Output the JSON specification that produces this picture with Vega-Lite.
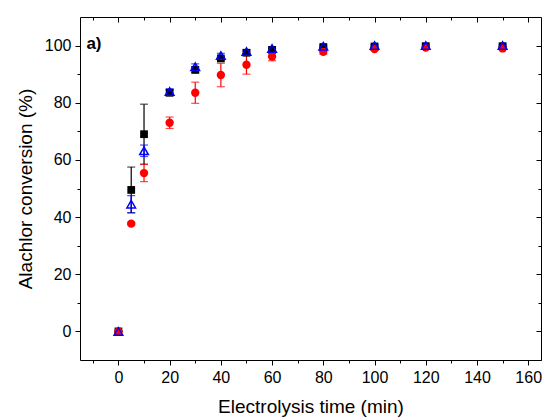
{
  "$schema": "https://vega.github.io/schema/vega-lite/v6.json",
  "width": 461,
  "height": 343,
  "autosize": {"type": "none"},
  "padding": {"left": 80, "top": 17, "right": 3, "bottom": 59},
  "background": "white",
  "config": {
    "view": {"stroke": "black", "strokeWidth": 1},
    "font": "Liberation Sans",
    "axis": {
      "domain": false,
      "grid": false,
      "tickColor": "black",
      "tickWidth": 1,
      "labelColor": "black",
      "titleColor": "black",
      "labelFont": "Liberation Sans",
      "titleFont": "Liberation Sans",
      "labelFontSize": 16,
      "titleFontSize": 19,
      "titleFontWeight": "normal"
    }
  },
  "datasets": {
    "pts": [
      {"s": "A", "t": 0, "v": 0, "lo": 0, "hi": 0},
      {"s": "A", "t": 5, "v": 49.5, "lo": 41.5, "hi": 57.5},
      {"s": "A", "t": 10, "v": 69, "lo": 58.5, "hi": 79.5},
      {"s": "A", "t": 20, "v": 83.5, "lo": 82.5, "hi": 84.5},
      {"s": "A", "t": 30, "v": 91.5, "lo": 90.5, "hi": 92.5},
      {"s": "A", "t": 40, "v": 95.5, "lo": 95, "hi": 96},
      {"s": "A", "t": 50, "v": 97.5, "lo": 97, "hi": 98},
      {"s": "A", "t": 60, "v": 98.5, "lo": 98, "hi": 99},
      {"s": "A", "t": 80, "v": 99.5, "lo": 99.2, "hi": 99.8},
      {"s": "A", "t": 100, "v": 99.7, "lo": 99.4, "hi": 100},
      {"s": "A", "t": 120, "v": 99.8, "lo": 99.5, "hi": 100},
      {"s": "A", "t": 150, "v": 99.8, "lo": 99.5, "hi": 100},
      {"s": "B", "t": 0, "v": 0, "lo": 0, "hi": 0},
      {"s": "B", "t": 5, "v": 37.7, "lo": 37.2, "hi": 38.2},
      {"s": "B", "t": 10, "v": 55.4, "lo": 52.4, "hi": 58.4},
      {"s": "B", "t": 20, "v": 73, "lo": 71, "hi": 75},
      {"s": "B", "t": 30, "v": 83.5, "lo": 79.8, "hi": 87.2},
      {"s": "B", "t": 40, "v": 89.7, "lo": 85.6, "hi": 93.8},
      {"s": "B", "t": 50, "v": 93.3, "lo": 90, "hi": 96.8},
      {"s": "B", "t": 60, "v": 96.2, "lo": 94.7, "hi": 97.7},
      {"s": "B", "t": 80, "v": 97.8, "lo": 97, "hi": 98.6},
      {"s": "B", "t": 100, "v": 98.8, "lo": 98.3, "hi": 99.3},
      {"s": "B", "t": 120, "v": 99.3, "lo": 98.9, "hi": 99.7},
      {"s": "B", "t": 150, "v": 99, "lo": 98.6, "hi": 99.4},
      {"s": "C", "t": 0, "v": 0, "lo": 0, "hi": 0},
      {"s": "C", "t": 5, "v": 44.5, "lo": 41.5, "hi": 47.5},
      {"s": "C", "t": 10, "v": 63.2, "lo": 61.2, "hi": 65.2},
      {"s": "C", "t": 20, "v": 83.9, "lo": 82.9, "hi": 84.9},
      {"s": "C", "t": 30, "v": 92.6, "lo": 91.6, "hi": 93.6},
      {"s": "C", "t": 40, "v": 96.5, "lo": 95.7, "hi": 97.3},
      {"s": "C", "t": 50, "v": 97.9, "lo": 97.2, "hi": 98.6},
      {"s": "C", "t": 60, "v": 99, "lo": 98.4, "hi": 99.6},
      {"s": "C", "t": 80, "v": 99.8, "lo": 99.4, "hi": 100.2},
      {"s": "C", "t": 100, "v": 100, "lo": 99.6, "hi": 100.4},
      {"s": "C", "t": 120, "v": 100, "lo": 99.6, "hi": 100.4},
      {"s": "C", "t": 150, "v": 100, "lo": 99.6, "hi": 100.4}
    ],
    "lbl": [{"t": -12.5, "v": 100.6, "text": "a)"}]
  },
  "data": {"name": "pts"},
  "layer": [
    {
      "mark": {"type": "rule", "strokeWidth": 1.2},
      "encoding": {
        "x": {"field": "t", "type": "quantitative", "scale": {"domain": [-15, 165], "nice": false, "zero": false}, "axis": null},
        "y": {"field": "lo", "type": "quantitative", "scale": {"domain": [-10, 110], "nice": false, "zero": false}, "axis": null},
        "y2": {"field": "hi"},
        "color": {"field": "s", "type": "nominal", "scale": {"domain": ["A", "B", "C"], "range": ["#000000", "#ff0000", "#0000ff"]}, "legend": null}
      }
    },
    {
      "mark": {"type": "tick", "orient": "horizontal", "size": 8, "thickness": 1.2},
      "encoding": {
        "x": {"field": "t", "type": "quantitative", "axis": null},
        "y": {"field": "lo", "type": "quantitative", "axis": null},
        "color": {"field": "s", "type": "nominal", "legend": null}
      }
    },
    {
      "mark": {"type": "tick", "orient": "horizontal", "size": 8, "thickness": 1.2},
      "encoding": {
        "x": {"field": "t", "type": "quantitative", "axis": null},
        "y": {"field": "hi", "type": "quantitative", "axis": null},
        "color": {"field": "s", "type": "nominal", "legend": null}
      }
    },
    {
      "transform": [{"filter": "datum.s === 'A'"}],
      "mark": {"type": "point", "shape": "square", "filled": true, "size": 60, "opacity": 1, "color": "#000000"},
      "encoding": {
        "x": {"field": "t", "type": "quantitative", "axis": {"orient": "bottom", "values": [0, 20, 40, 60, 80, 100, 120, 140, 160], "tickSize": 5, "labelPadding": 4, "title": "Electrolysis time (min)", "titlePadding": 12}},
        "y": {"field": "v", "type": "quantitative", "axis": {"orient": "left", "values": [0, 20, 40, 60, 80, 100], "tickSize": 5, "labelPadding": 4, "title": "Alachlor conversion (%)", "titlePadding": 9}}
      }
    },
    {
      "transform": [{"filter": "datum.s === 'B'"}],
      "mark": {"type": "point", "shape": "circle", "filled": true, "size": 70, "opacity": 1, "color": "#ff0000"},
      "encoding": {
        "x": {"field": "t", "type": "quantitative", "axis": {"orient": "bottom", "values": [-10, 10, 30, 50, 70, 90, 110, 130, 150], "tickSize": 3, "labels": false, "title": null}},
        "y": {"field": "v", "type": "quantitative", "axis": {"orient": "left", "values": [10, 30, 50, 70, 90], "tickSize": 3, "labels": false, "title": null}}
      }
    },
    {
      "transform": [{"filter": "datum.s === 'C'"}],
      "mark": {"type": "point", "shape": "triangle-up", "filled": false, "size": 75, "strokeWidth": 1.5, "opacity": 1, "color": "#0000ff"},
      "encoding": {
        "x": {"field": "t", "type": "quantitative", "axis": {"orient": "top", "values": [0, 20, 40, 60, 80, 100, 120, 140, 160], "tickSize": -5, "labels": false, "title": null}},
        "y": {"field": "v", "type": "quantitative", "axis": {"orient": "right", "values": [0, 20, 40, 60, 80, 100], "tickSize": -5, "labels": false, "title": null}}
      }
    },
    {
      "data": {"name": "lbl"},
      "mark": {"type": "text", "align": "left", "baseline": "middle", "fontSize": 17, "fontWeight": "bold", "font": "Liberation Sans", "color": "black"},
      "encoding": {
        "x": {"field": "t", "type": "quantitative", "axis": {"orient": "top", "values": [-10, 10, 30, 50, 70, 90, 110, 130, 150], "tickSize": -3, "labels": false, "title": null}},
        "y": {"field": "v", "type": "quantitative", "axis": {"orient": "right", "values": [-10, 10, 30, 50, 70, 90], "tickSize": -3, "labels": false, "title": null}},
        "text": {"field": "text"}
      }
    }
  ],
  "resolve": {"axis": {"x": "independent", "y": "independent"}}
}
